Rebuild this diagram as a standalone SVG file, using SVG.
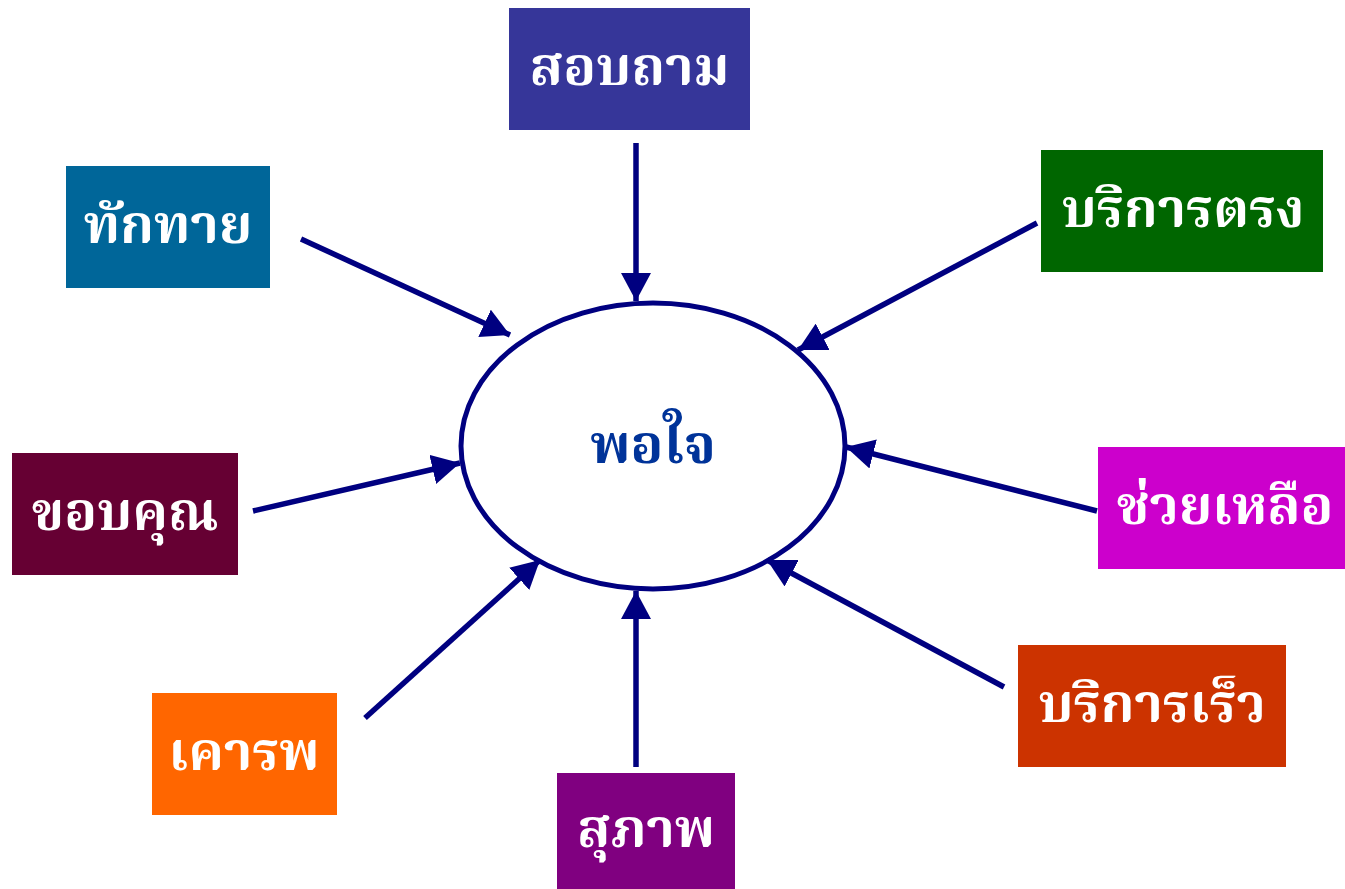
<svg xmlns="http://www.w3.org/2000/svg" width="1345" height="889" viewBox="0 0 1345 889">
<defs>
<marker id="ah" viewBox="0 0 28 30" refX="28" refY="15" markerWidth="28" markerHeight="30" markerUnits="userSpaceOnUse" orient="auto">
<path d="M0,0 L28,15 L0,30 z" fill="#000080"/>
</marker>
</defs>
<style>
.lbl{font-family:"Noto Serif Thai","Noto Sans Thai","Tlwg Typo","Loma","Garuda","DejaVu Sans",sans-serif;font-weight:bold;font-size:54px;fill:#ffffff;text-anchor:middle;dominant-baseline:central}
.conn line{stroke:#000080;stroke-width:5.5;marker-end:url(#ah)}
</style>
<rect width="1345" height="889" fill="#ffffff"/>
<g id="center">
<ellipse cx="653" cy="446" rx="192" ry="143" fill="#ffffff" stroke="#000080" stroke-width="5"/>
<text class="lbl" x="653" y="449" style="fill:#003399">พอใจ</text>
</g>
<g id="n-sobtham"><rect x="509" y="8" width="241" height="122" fill="#363699"/><text class="lbl" x="629.5" y="71">สอบถาม</text></g>
<g id="n-thakthai"><rect x="66" y="166" width="204" height="122" fill="#006699"/><text class="lbl" x="168" y="229">ทักทาย</text></g>
<g id="n-borikantrong"><rect x="1041" y="150" width="282" height="122" fill="#006600"/><text class="lbl" x="1183" y="213">บริการตรง</text></g>
<g id="n-khobkhun"><rect x="12" y="453" width="226" height="122" fill="#660033"/><text class="lbl" x="125" y="516">ขอบคุณ</text></g>
<g id="n-chuailuea"><rect x="1098" y="447" width="247" height="122" fill="#CC00CC"/><text class="lbl" x="1225" y="510">ช่วยเหลือ</text></g>
<g id="n-khaorop"><rect x="152" y="693" width="185" height="122" fill="#FF6600"/><text class="lbl" x="244" y="756">เคารพ</text></g>
<g id="n-suphap"><rect x="557" y="773" width="178" height="116" fill="#800080"/><text class="lbl" x="646" y="833">สุภาพ</text></g>
<g id="n-borikanreo"><rect x="1018" y="645" width="268" height="122" fill="#CC3300"/><text class="lbl" x="1152" y="708">บริการเร็ว</text></g>
<g id="connectors" class="conn">
<line x1="636" y1="143" x2="636" y2="301"/>
<line x1="301" y1="239" x2="510" y2="335"/>
<line x1="1037" y1="223" x2="798" y2="350"/>
<line x1="253" y1="511" x2="460" y2="463"/>
<line x1="1097" y1="511" x2="846" y2="447"/>
<line x1="365" y1="718" x2="540" y2="560"/>
<line x1="636" y1="767" x2="636" y2="591"/>
<line x1="1004" y1="687" x2="767" y2="560"/>
</g>
</svg>
